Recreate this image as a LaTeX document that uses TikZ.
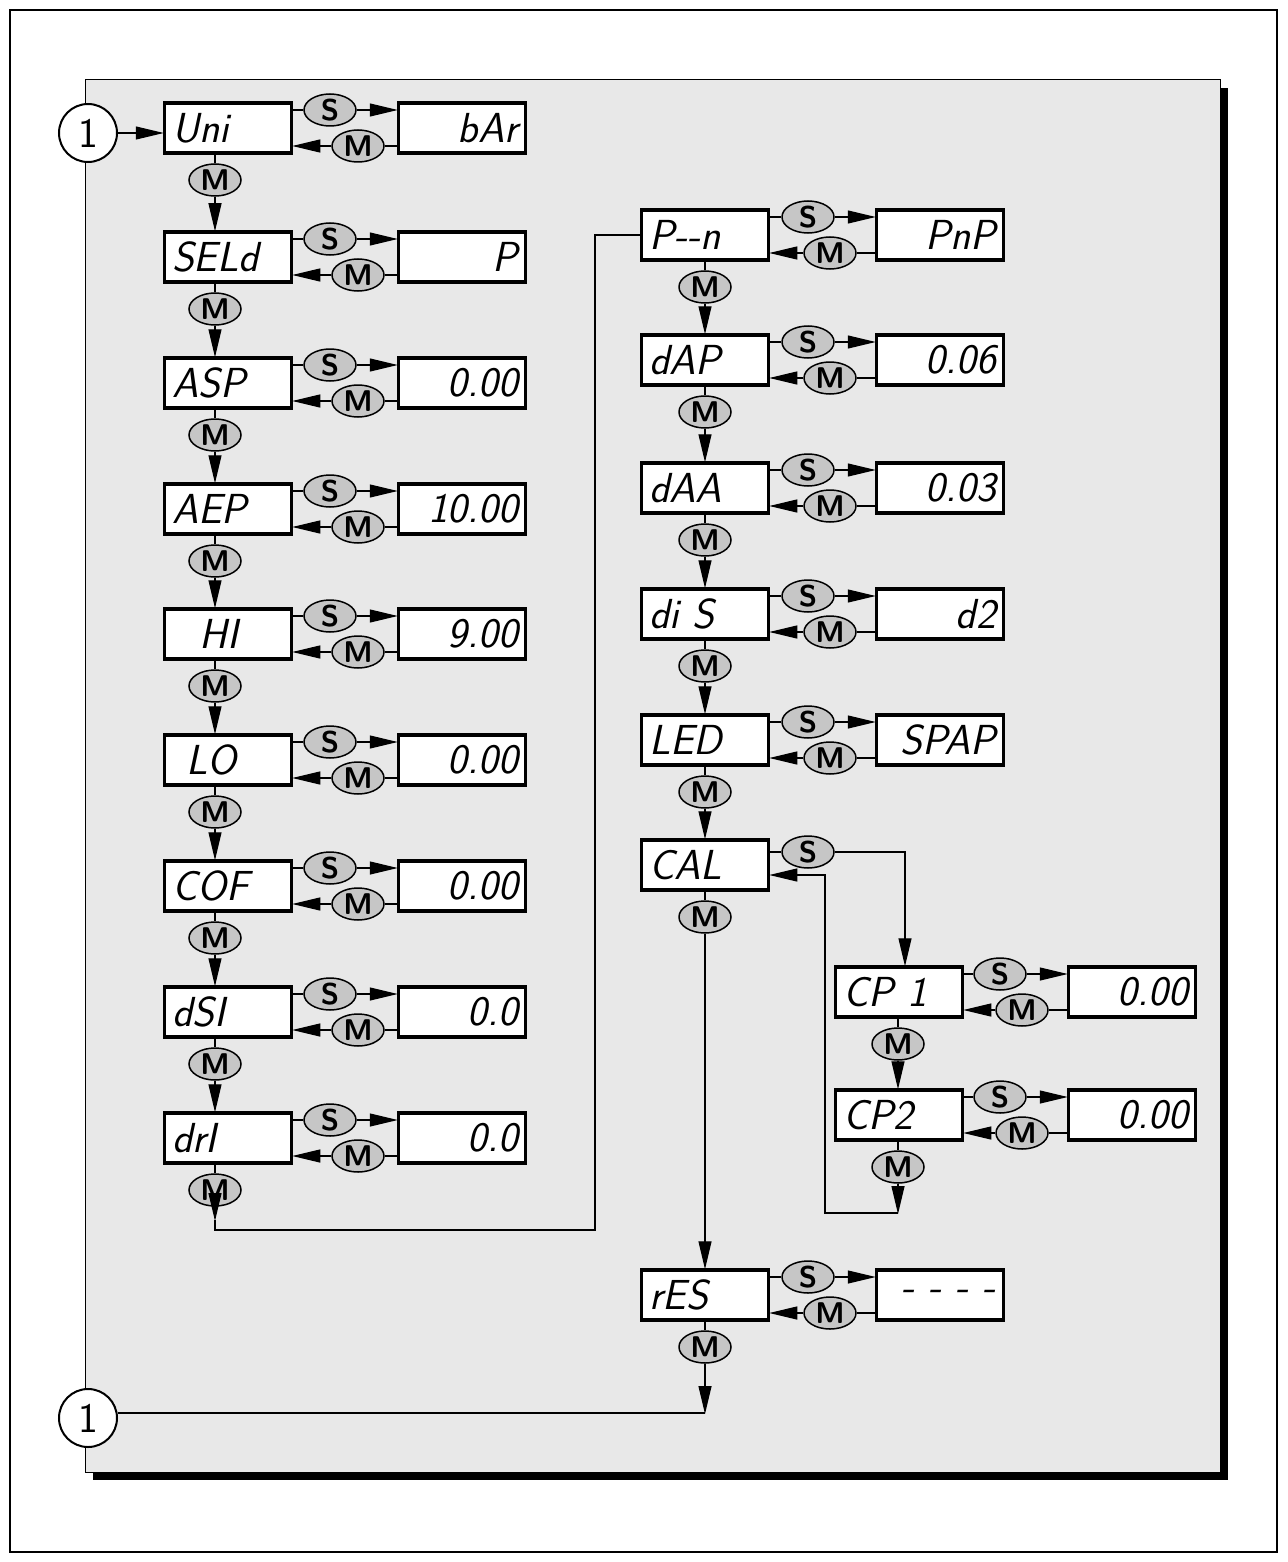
\documentclass[tikz,border=0pt]{standalone}
\usepackage{tikz}
\usetikzlibrary{shapes,arrows.meta,positioning,calc}

\begin{document}
\begin{tikzpicture}[
    x=1pt, y=-1pt,
    disp/.style={rectangle, draw, line width=3.5pt, fill=white, minimum width=127pt, minimum height=50pt, inner sep=4pt, text width=112pt, font=\fontsize{42}{42}\selectfont\sffamily\itshape},
    lbl/.style={disp, align=left},
    val/.style={disp, align=right},
    key/.style={ellipse, draw, line width=1.5pt, fill=gray!45, minimum width=52pt, minimum height=32pt, inner sep=0pt, font=\fontsize{30}{30}\selectfont\sffamily\bfseries},
    one/.style={circle, draw, line width=2pt, fill=white, minimum size=58pt, inner sep=0pt, font=\fontsize{42}{42}\selectfont\sffamily},
    tip/.style={-{Triangle[length=28pt,width=13pt]}, line width=1.2pt, shorten >=-1pt},
    wire/.style={line width=1.2pt}
]
\useasboundingbox (0,0) rectangle (1287,1562);

% Frame and panel
\draw[line width=1.5pt] (10,10) rectangle (1277,1552);
\fill[black] (93,88) rectangle (1228,1480);
\fill[gray!18] (85,80) rectangle (1220,1472);
\draw[line width=1pt] (85,80) rectangle (1220,1472);

% Left column
\foreach \n/\y/\lab/\val in {uni/128/Uni/bAr, seld/257/SELd/P, asp/383/ASP/0.00, aep/509/AEP/10.00, hi/634/\ \ HI/9.00, lo/760/\ LO/0.00, cof/886/COF/0.00, dsi/1012/dSI/0.0, dri/1138/drI/0.0} {
  \node[lbl] (\n) at (228,\y) {\lab};
  \node[val] (\n-v) at (462,\y) {\val};
  \node[key] (\n-s) at (330,\y-18) {S};
  \node[key] (\n-m) at (358,\y+18) {M};
  \node[key] (\n-d) at (215,\y+52) {M};
  \draw[wire] (\n.east |- \n-s) -- (\n-s);
  \draw[tip] (\n-s) -- (\n-v.west |- \n-s);
  \draw[wire] (\n-v.west |- \n-m) -- (\n-m);
  \draw[tip] (\n-m) -- (\n.east |- \n-m);
  \draw[wire] (\n.south -| \n-d) -- (\n-d);
}
\foreach \a/\b in {uni/seld, seld/asp, asp/aep, aep/hi, hi/lo, lo/cof, cof/dsi, dsi/dri}
  \draw[tip] (\a-d) -- (\a-d |- \b.north);

% Right column
\foreach \n/\y/\lab/\val in {pn/235/P-{}-n/PnP, dap/360/dAP/0.06, daa/488/dAA/0.03, dis/614/di S/d2, led/740/LED/SPAP, res/1295/rES/- - - -} {
  \node[lbl] (\n) at (705,\y) {\lab};
  \node[val] (\n-v) at (940,\y) {\val};
  \node[key] (\n-s) at (808,\y-18) {S};
  \node[key] (\n-m) at (830,\y+18) {M};
  \node[key] (\n-d) at (705,\y+52) {M};
  \draw[wire] (\n.east |- \n-s) -- (\n-s);
  \draw[tip] (\n-s) -- (\n-v.west |- \n-s);
  \draw[wire] (\n-v.west |- \n-m) -- (\n-m);
  \draw[tip] (\n-m) -- (\n.east |- \n-m);
  \draw[wire] (\n.south -| \n-d) -- (\n-d);
}
\node[lbl] (cal) at (705,865) {CAL};
\node[key] (cal-s) at (808,852) {S};
\node[key] (cal-d) at (705,917) {M};
\draw[wire] (cal.east |- cal-s) -- (cal-s);
\draw[wire] (cal.south -| cal-d) -- (cal-d);
\foreach \a/\b in {pn/dap, dap/daa, daa/dis, dis/led, led/cal}
  \draw[tip] (\a-d) -- (\a-d |- \b.north);

% Calibration branch
\foreach \n/\y/\lab in {cpa/992/CP 1, cpb/1115/CP2} {
  \node[lbl] (\n) at (899,\y) {\lab};
  \node[val] (\n-v) at (1132,\y) {0.00};
  \node[key] (\n-s) at (1000,\y-18) {S};
  \node[key] (\n-m) at (1022,\y+18) {M};
  \node[key] (\n-d) at (898,\y+52) {M};
  \draw[wire] (\n.east |- \n-s) -- (\n-s);
  \draw[tip] (\n-s) -- (\n-v.west |- \n-s);
  \draw[wire] (\n-v.west |- \n-m) -- (\n-m);
  \draw[tip] (\n-m) -- (\n.east |- \n-m);
  \draw[wire] (\n.south -| \n-d) -- (\n-d);
}
\draw[tip] (cpa-d) -- (cpa-d |- cpb.north);
\draw[tip] (cal-s) -| (905,0 |- cpa.north);
\coordinate (cpb-end) at (898,1213);
\draw[tip] (cpb-d) -- (cpb-end);
\draw[tip] (cpb-end) -| (825,875) -- (cal.east |- 0,875);
\draw[tip] (cal-d) -- (cal-d |- res.north);

% Entry and return circles
\node[one] (onea) at (88,133) {1};
\node[one] (oneb) at (88,1418) {1};
\draw[tip] (onea) -- (uni.west |- onea);

\coordinate (dri-end) at (230,1230);
\draw[tip] (dri-d) -- (dri-d |- 0,1220);
\draw[wire] (dri-d |- 0,1220) -- (dri-d |- dri-end) -- (595,1230) |- (pn.west);
\coordinate (res-end) at (705,1413);
\draw[tip] (res-d) -- (res-end);
\draw[wire] (res-end) -- (oneb.east |- res-end);

\end{tikzpicture}
\end{document}
